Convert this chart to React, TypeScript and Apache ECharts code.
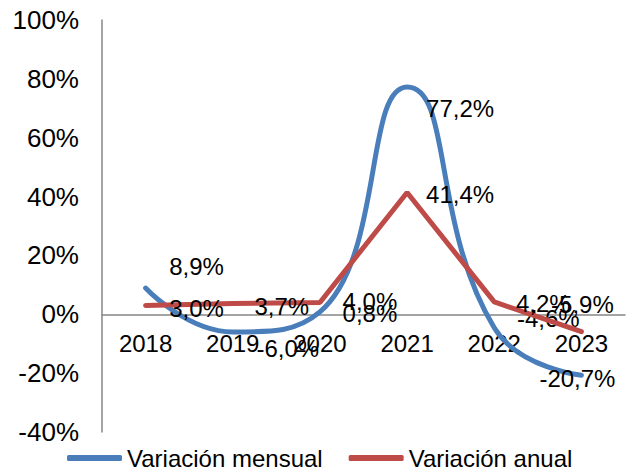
import React, { useEffect, useRef } from "react";
import * as echarts from "echarts";

const years = ["2018", "2019", "2020", "2021", "2022", "2023"];
const variacionMensual = [8.9, -6.0, 0.8, 77.2, -4.6, -20.7];
const variacionAnual = [3.0, 3.7, 4.0, 41.4, 4.2, -5.9];
const yTicks = { min: -40, max: 100, interval: 20 };

// label offsets (layout only), relative to each point
const mensualLabelOffsets = [
  [51, -22],
  [55, 17],
  [50, 2],
  [53, 21],
  [54, -9],
  [-4, 3],
];
const anualLabelOffsets = [
  [51, 3],
  [49, 3],
  [50, -1],
  [53, 2],
  [49, 2],
  [1, -27],
];

const FONT = "'Liberation Sans', Arial, sans-serif";
const fmt = (v: number) => v.toFixed(1).replace(".", ",") + "%";

const GRID_TOP = 20;
const GRID_BOTTOM = 41;
const CHART_H = 473;

export default function App() {
  const ref = useRef<HTMLDivElement>(null);
  useEffect(() => {
    if (!ref.current) return;
    const chart = echarts.init(ref.current, undefined, { renderer: "svg" });
    const mkData = (vals: number[], offs: number[][]) =>
      vals.map((v, i) => ({
        value: v,
        label: { offset: offs[i] },
      }));
    const labelBase = {
      show: true,
      position: "inside",
      align: "center",
      verticalAlign: "middle",
      color: "#000",
      fontFamily: FONT,
      fontSize: 24,
      formatter: (p: any) => fmt(p.value),
    };
    const gridH = CHART_H - GRID_TOP - GRID_BOTTOM;
    const zeroFromBottom = (gridH * (0 - yTicks.min)) / (yTicks.max - yTicks.min);
    chart.setOption({
      animation: false,
      grid: { left: 102, right: 4, top: GRID_TOP, bottom: GRID_BOTTOM, containLabel: false },
      legend: {
        left: 67,
        top: 446,
        padding: 0,
        icon: "roundRect",
        itemWidth: 55,
        itemHeight: 6,
        itemGap: 26,
        textStyle: { fontFamily: FONT, fontSize: 24, color: "#000" },
        data: ["Variación mensual", "Variación anual"],
      },
      xAxis: {
        type: "category",
        data: years,
        boundaryGap: true,
        offset: -zeroFromBottom,
        axisLine: { onZero: false, lineStyle: { color: "#868686", width: 1.5 } },
        axisTick: { show: false },
        axisLabel: { fontFamily: FONT, fontSize: 24, color: "#000", margin: 17 },
        splitLine: { show: false },
      },
      yAxis: {
        type: "value",
        min: yTicks.min,
        max: yTicks.max,
        interval: yTicks.interval,
        axisLine: { show: true, lineStyle: { color: "#868686", width: 1.5 } },
        axisTick: { show: false },
        splitLine: { show: false },
        axisLabel: {
          fontFamily: FONT,
          fontSize: 26,
          color: "#000",
          margin: 23,
          formatter: (v: number) => `${v}%`,
        },
      },
      series: [
        {
          name: "Variación mensual",
          type: "line",
          smooth: 0.5,
          data: mkData(variacionMensual, mensualLabelOffsets),
          symbol: "circle",
          symbolSize: 1,
          showSymbol: true,
          itemStyle: { color: "#4A7EBB" },
          lineStyle: { color: "#4A7EBB", width: 5, cap: "round" },
          label: labelBase,
          z: 2,
        },
        {
          name: "Variación anual",
          type: "line",
          smooth: false,
          data: mkData(variacionAnual, anualLabelOffsets),
          symbol: "circle",
          symbolSize: 1,
          showSymbol: true,
          itemStyle: { color: "#BE4B48" },
          lineStyle: { color: "#BE4B48", width: 5, cap: "round" },
          label: labelBase,
          z: 3,
        },
      ],
    });
    return () => chart.dispose();
  }, []);
  return (
    <div
      ref={ref}
      style={{ position: "fixed", left: 0, top: 0, width: 629, height: 473, background: "#fff" }}
    />
  );
}
